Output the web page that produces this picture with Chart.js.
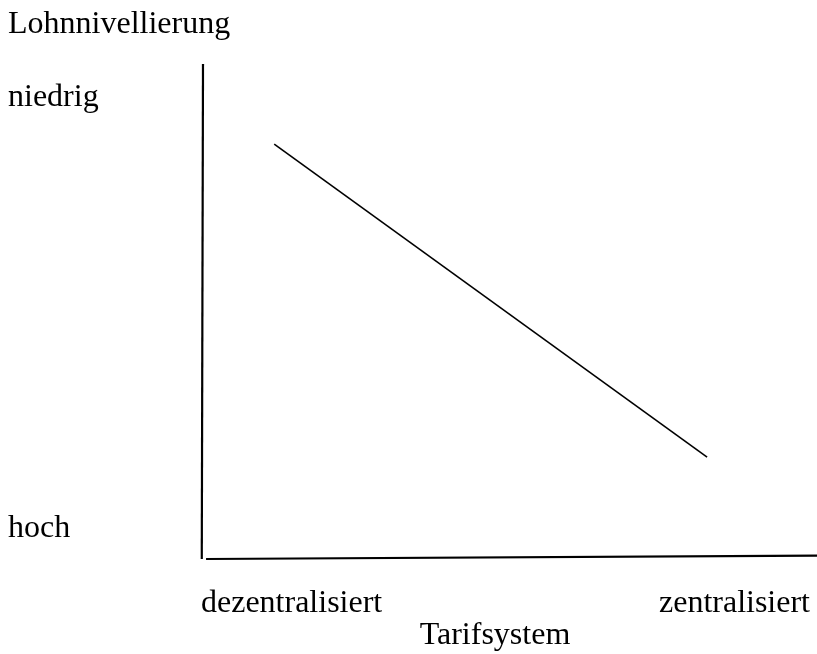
<!DOCTYPE html>
<html>
<head>
<meta charset="utf-8">
<script src="https://cdn.jsdelivr.net/npm/chart.js@4/dist/chart.umd.min.js"></script>
<style>
  html, body { margin: 0; padding: 0; background: #fff; }
  #wrap { position: relative; width: 817px; height: 654px; }
</style>
</head>
<body>
<div id="wrap"><canvas id="c" width="817" height="654"></canvas></div>
<script>
// ---- data ----
const xTickLabels = ['dezentralisiert', 'zentralisiert'];
const yTickLabels = ['hoch', 'niedrig'];
const xAxisTitle = 'Tarifsystem';
const yAxisTitle = 'Lohnnivellierung';
// relationship line (x: Tarifsystem 0..100, y: Lohnnivellierung 0 = hoch .. 100 = niedrig)
const lineX = [11.6, 82.1];
const lineY = [83.8, 20.4];
// hand-drawn axes
const yAxisX = [0, -0.2];
const yAxisY = [100, -0.2];
const xAxisX = [0.5, 100];
const xAxisY = [-0.2, 0.5];

const toPts = (xs, ys) => xs.map((x, i) => ({ x: x, y: ys[i] }));

const FONT = '32px "Liberation Serif", "Times New Roman", serif';

const labelPlugin = {
  id: 'labels',
  afterDraw(chart) {
    const ctx = chart.ctx;
    ctx.save();
    ctx.font = FONT;
    ctx.fillStyle = '#000';
    ctx.textBaseline = 'alphabetic';
    ctx.textAlign = 'left';
    ctx.fillText(yAxisTitle, 8, 33);
    ctx.fillText(yTickLabels[1], 8, 106);
    ctx.fillText(yTickLabels[0], 8, 537);
    ctx.fillText(xTickLabels[0], 201, 612);
    ctx.textAlign = 'right';
    ctx.fillText(xTickLabels[1], 810, 612);
    ctx.textAlign = 'center';
    ctx.fillText(xAxisTitle, 495, 644);
    ctx.restore();
  }
};

new Chart(document.getElementById('c'), {
  type: 'scatter',
  data: {
    datasets: [
      { data: toPts(lineX, lineY), showLine: true, borderColor: '#000', borderWidth: 1.6, pointRadius: 0, clip: false },
      { data: toPts(yAxisX, yAxisY), showLine: true, borderColor: '#000', borderWidth: 2.2, pointRadius: 0, clip: false },
      { data: toPts(xAxisX, xAxisY), showLine: true, borderColor: '#000', borderWidth: 2.2, pointRadius: 0, clip: false }
    ]
  },
  options: {
    responsive: false,
    animation: false,
    layout: { padding: { left: 203, right: 0, top: 64, bottom: 96 } },
    plugins: { legend: { display: false }, tooltip: { enabled: false } },
    scales: {
      x: { type: 'linear', min: 0, max: 100, display: false },
      y: { type: 'linear', min: 0, max: 100, display: false }
    }
  },
  plugins: [labelPlugin]
});
</script>
</body>
</html>
